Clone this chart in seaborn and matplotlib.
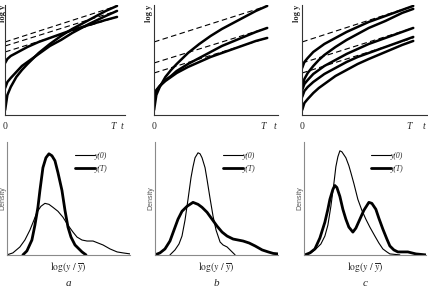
import matplotlib
matplotlib.use("Agg")
import matplotlib.pyplot as plt
import seaborn as sns

# --- top row: log y paths over time (t in units of T) ---
T_GRID = [0, 0.02, 0.05, 0.1, 0.15, 0.2, 0.3, 0.4, 0.5, 0.6, 0.75, 0.9, 1.0]

PATHS_A = [
    [5, 20, 28, 38, 45, 51, 62, 71, 79, 86, 95, 104, 109],
    [27, 33, 37, 43, 49, 53, 61, 69, 75, 82, 91, 99, 104],
    [52, 56, 59, 62, 65, 68, 73, 77, 81, 85, 90, 95, 98],
]
TRENDS_A = [(73, 109), (69, 104), (63, 98)]

PATHS_B = [
    [5, 20, 28, 38, 45, 51, 62, 71, 79, 86, 95, 104, 109],
    [17, 24, 29, 35, 39, 44, 51, 57, 63, 69, 76, 83, 87],
    [20, 25, 29, 34, 38, 42, 48, 53, 58, 62, 68, 74, 77],
]
TRENDS_B = [(73, 109), (52, 87), (42, 77)]

PATHS_C = [
    [47, 53, 57, 63, 67, 71, 77, 83, 88, 93, 99, 105, 109],
    [27, 36, 42, 49, 55, 60, 68, 75, 81, 87, 94, 102, 106],
    [25, 31, 35, 41, 45, 49, 55, 61, 66, 71, 77, 83, 87],
    [18, 24, 28, 33, 37, 41, 47, 53, 58, 62, 68, 74, 78],
    [5, 12, 16, 22, 27, 31, 39, 45, 51, 56, 63, 70, 74],
]
TRENDS_C = [(73, 109), (52, 87), (42, 77)]

# --- bottom row: densities of log(y / ybar) ---
A_Y0_X = [0, 6, 13, 18, 23, 27, 30, 34, 38, 42, 46, 51, 56, 61, 66, 70, 75, 80, 86, 91, 96, 103, 110, 116, 123]
A_Y0_D = [0, 2, 8, 15, 25, 35, 43, 49, 52, 51, 48, 44, 38, 30, 23, 18, 15, 14, 14, 12, 10, 6, 3, 2, 1]
A_YT_X = [16, 20, 25, 28, 31, 33, 36, 39, 42, 45, 48, 51, 55, 58, 61, 64, 68, 72, 75, 79]
A_YT_D = [0, 4, 15, 30, 48, 65, 88, 98, 102, 100, 95, 83, 65, 45, 28, 18, 10, 6, 3, 0]

B_Y0_X = [15, 20, 24, 27, 30, 33, 36, 38, 40, 43, 45, 47, 50, 52, 55, 58, 61, 65, 68, 72, 76, 80]
B_Y0_D = [0, 5, 11, 19, 35, 56, 78, 89, 98, 103, 102, 98, 88, 76, 57, 39, 25, 13, 10, 8, 4, 0]
B_YT_X = [0, 5, 10, 15, 19, 23, 27, 32, 38, 43, 47, 52, 57, 62, 67, 72, 78, 83, 88, 94, 100, 107, 113, 118, 123]
B_YT_D = [0, 2, 6, 14, 25, 36, 44, 49, 53, 51, 48, 43, 36, 29, 23, 19, 16, 15, 14, 12, 9, 5, 3, 1.5, 1]

C_Y0_X = [2, 7, 12, 17, 21, 24, 27, 30, 32, 34, 36, 38, 40, 42, 45, 47, 50, 54, 58, 62, 66, 71, 75, 79, 83, 86, 96]
C_Y0_D = [0, 2, 6, 11, 19, 30, 49, 72, 89, 99, 105, 104, 101, 98, 90, 83, 72, 56, 45, 36, 28, 19, 12, 6, 3, 1, 0]
C_YT_X = [1, 6, 11, 16, 21, 24, 26, 29, 31, 33, 36, 39, 42, 45, 49, 52, 56, 60, 65, 68, 72, 75,
          79, 83, 86, 90, 94, 99, 104, 108, 112, 117, 122]
C_YT_D = [0, 2, 6, 17, 33, 46, 56, 66, 70, 68, 59, 46, 36, 28, 23, 27, 36, 45, 53, 52, 46, 37,
          26, 16, 9, 5, 3, 3, 3, 2, 1, 0.5, 0]

PANEL_LETTERS = ["a", "b", "c"]

sns.set_theme(style="white")
plt.rcParams.update({
    "font.family": ["Liberation Serif", "DejaVu Serif"],
    "mathtext.fontset": "stix",
    "axes.edgecolor": "#222222",
})

fig = plt.figure(figsize=(4.28, 2.89), dpi=100)

top_boxes = [(0.012, 0.602, 0.280, 0.381), (0.360, 0.602, 0.290, 0.381), (0.706, 0.602, 0.292, 0.381)]
top_xmax = [1.071, 1.097, 1.125]
bot_boxes = [(0.016, 0.118, 0.288, 0.391), (0.362, 0.118, 0.288, 0.391), (0.710, 0.118, 0.285, 0.391)]
bot_xmax = [123, 123, 122]
logy_offset = [-1.5, -4, -4]

paths = [PATHS_A, PATHS_B, PATHS_C]
trends = [TRENDS_A, TRENDS_B, TRENDS_C]
dens = [
    (A_Y0_X, A_Y0_D, A_YT_X, A_YT_D),
    (B_Y0_X, B_Y0_D, B_YT_X, B_YT_D),
    (C_Y0_X, C_Y0_D, C_YT_X, C_YT_D),
]


def clean(ax, color):
    for side in ("top", "right"):
        ax.spines[side].set_visible(False)
    for side in ("left", "bottom"):
        ax.spines[side].set_color(color)
        ax.spines[side].set_linewidth(0.8)
    ax.set_xticks([])
    ax.set_yticks([])
    ax.set_xlabel("")
    ax.set_ylabel("")


for i in range(3):
    ax = fig.add_axes(top_boxes[i])
    for start, end in trends[i]:
        sns.lineplot(x=[0, 1], y=[start, end], ax=ax, color="black", lw=0.8,
                     linestyle=(0, (5, 3)))
    for p in paths[i]:
        sns.lineplot(x=T_GRID, y=p, ax=ax, color="black", lw=1.8)
    ax.set_xlim(0, top_xmax[i])
    ax.set_ylim(0, 110)
    clean(ax, "#333333")
    ax.annotate("0", xy=(0, 0), xytext=(0, -8), textcoords="offset points",
                ha="center", va="center", fontsize=7)
    ax.annotate("T", xy=(1, 0), xytext=(-3, -8), textcoords="offset points",
                ha="center", va="center", fontsize=7, style="italic")
    ax.annotate("t", xy=(top_xmax[i], 0), xytext=(-2, -8), textcoords="offset points",
                ha="center", va="center", fontsize=7, style="italic")
    ax.annotate("log y", xy=(0, 110), xytext=(logy_offset[i], 0), textcoords="offset points",
                ha="center", va="top", rotation=90, fontsize=6, fontweight="bold")

    bx = fig.add_axes(bot_boxes[i])
    x0, d0, xt, dt = dens[i]
    sns.lineplot(x=x0, y=d0, ax=bx, color="black", lw=0.8, label="y(0)")
    sns.lineplot(x=xt, y=dt, ax=bx, color="black", lw=2.0, label="y(T)")
    bx.set_xlim(0, bot_xmax[i])
    bx.set_ylim(0, 114)
    clean(bx, "#8a8a8a")
    bx.legend(loc="upper right", bbox_to_anchor=(0.87, 0.97), frameon=False,
              handlelength=2.6, handletextpad=0.0, labelspacing=0.6,
              prop={"family": "Liberation Serif", "style": "italic", "size": 5.5})
    bx.text(-0.035, 0.5, "Density", transform=bx.transAxes, rotation=90,
            ha="center", va="center", fontsize=5, color="#555555",
            family="Liberation Sans")
    bx.text(0.5, -0.11, r"$\mathrm{log}(y\ /\ \overline{y})$", transform=bx.transAxes,
            ha="center", va="center", fontsize=7)
    bx.text(0.5, -0.25, PANEL_LETTERS[i], transform=bx.transAxes,
            ha="center", va="center", fontsize=8, style="italic")

fig.savefig("out.png", dpi=100)
